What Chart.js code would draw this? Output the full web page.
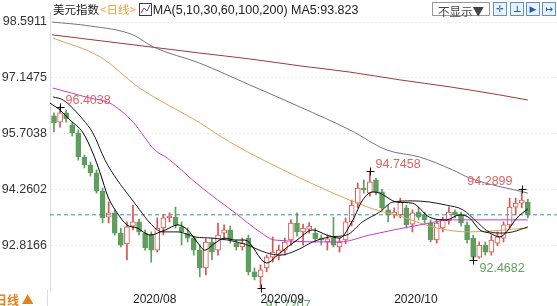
<!DOCTYPE html>
<html>
<head>
<meta charset="utf-8">
<script src="https://cdn.jsdelivr.net/npm/chart.js@4/dist/chart.umd.min.js"></script>
<style>
  html, body { margin: 0; padding: 0; background: #fff; }
  #wrap { position: relative; width: 557px; height: 306px; overflow: hidden; background: #fff; }
  #c { position: absolute; left: 0; top: 0; }
  #title { position: absolute; left: 53px; top: 1px; height: 16px; line-height: 16px; white-space: nowrap;
           font: 12.5px "Liberation Sans", Arial, sans-serif; color: #222; }
  #title .cn { font-family: "Noto Sans CJK SC", sans-serif; font-size: 11.5px; }
  #title .per { color: #f0a040; font-family: "Noto Sans CJK SC", sans-serif; font-size: 11.5px; margin: 0 3px 0 1px; }
  #title svg { vertical-align: -2px; margin-right: 1px; }
  #hide { position: absolute; left: 432px; top: 2px; width: 56px; height: 12px; line-height: 12px; border: 1px solid #999;
          font: 11.5px "Noto Sans CJK SC", sans-serif; color: #444; text-align: center; }
  .btn { position: absolute; top: 2px; width: 12px; height: 12px; border: 1px solid #5b8fd6; background: #eaf2ff;
         font: bold 9px "DejaVu Sans", sans-serif; color: #2a5cae; text-align: center; line-height: 12px; }
  #period { position: absolute; left: -5px; top: 291px; font: bold 12px "Noto Sans CJK SC", sans-serif; color: #e8801a; }
  #divider { position: absolute; left: 47px; top: 290px; width: 1px; height: 16px; background: #ddd; }
</style>
</head>
<body>
<div id="wrap">
  <canvas id="c" width="557" height="306"></canvas>
  <div id="title"><span class="cn">美元指数</span><span class="per">&lt;日线&gt;</span><svg width="13" height="13"><rect x="0.5" y="0.5" width="12" height="12" fill="#fff" stroke="#2b3a6a"/><polyline points="2,10 5,5 8,8 11,2" fill="none" stroke="#a03070"/></svg>MA(5,10,30,60,100,200) MA5:93.823</div>
  <div id="hide">不显示▼</div>
  <div class="btn" style="left:493px">✛</div>
  <div class="btn" style="left:510px">⊥</div>
  <div class="btn" style="left:526px">▶</div>
  <div class="btn" style="left:542px">↦</div>
  <div id="period">日线 ▲</div>
  <div id="divider"></div>
</div>
<script>
// 美元指数 日K线 + 均线

// K线数据 (2020/07/15 起)
var opens  = [96.17,96.01,96.25,95.94,95.73,95.11,94.91,94.70,94.23,93.56,
              93.67,93.15,92.87,93.33,93.44,93.15,93.10,92.71,93.28,93.54,
              93.56,93.31,93.15,93.02,92.71,92.25,92.92,92.71,93.15,93.23,
              92.89,92.79,93.02,92.15,92.02,92.25,92.53,92.58,92.71,92.97,
              93.41,93.18,93.25,93.15,93.02,92.92,93.02,92.79,92.97,93.44,
              93.92,94.31,94.18,94.52,94.21,93.75,93.62,93.62,93.80,93.38,
              93.69,93.62,93.41,92.97,93.28,93.46,93.69,93.62,93.36,93.02,
              92.53,92.84,92.66,92.89,93.02,93.36,93.82,93.92,93.95];
var highs  = [96.25,96.4038,96.32,96.01,95.81,95.16,94.98,94.78,94.31,93.95,
              93.75,93.28,93.44,93.87,93.51,93.23,93.18,93.54,93.62,93.67,
              93.82,93.44,93.28,93.07,92.84,93.00,93.02,93.41,93.36,93.33,
              92.97,93.02,93.10,92.25,92.33,92.58,93.05,92.84,93.02,93.49,
              93.67,93.38,93.42,93.28,93.10,93.10,93.56,93.02,93.54,94.00,
              94.44,94.52,94.7458,94.57,94.28,93.87,93.80,94.05,93.87,93.75,
              93.80,93.69,93.49,93.49,93.56,93.82,93.75,93.69,93.44,93.10,
              92.92,92.92,93.10,93.18,93.44,94.05,94.05,94.2899,94.02];
var lows   = [95.76,95.88,96.01,95.65,95.03,94.83,94.62,94.18,93.41,93.41,
              93.10,92.79,92.46,93.23,93.10,92.71,92.40,92.66,93.10,93.44,
              93.28,92.84,92.92,92.58,92.02,92.07,92.46,92.58,92.97,92.89,
              92.71,92.71,92.07,91.94,91.7207,92.15,92.40,92.46,92.58,92.84,
              93.07,92.84,93.15,92.92,92.84,92.71,92.79,92.66,92.87,93.33,
              93.80,94.18,94.10,94.13,93.74,93.44,93.54,93.54,93.28,93.18,
              93.49,93.41,92.92,92.89,93.18,93.38,93.54,93.33,92.89,92.4682,
              92.50,92.58,92.58,92.82,92.92,93.28,93.62,93.80,93.54];
var closes = [95.99,96.25,96.09,95.73,95.11,94.91,94.70,94.23,93.54,93.67,
              93.15,92.84,93.31,93.44,93.18,92.77,92.71,93.28,93.54,93.59,
              93.36,93.18,93.02,92.71,92.25,92.92,92.66,93.10,93.23,92.97,
              92.79,92.89,92.15,92.02,92.20,92.53,92.66,92.71,92.92,93.41,
              93.18,93.28,93.33,93.00,92.97,93.00,92.84,92.92,93.44,93.87,
              94.31,94.26,94.47,94.21,93.80,93.62,93.69,93.95,93.36,93.67,
              93.56,93.49,92.97,93.41,93.49,93.69,93.62,93.41,92.97,92.53,
              92.84,92.66,92.97,93.05,93.36,93.82,93.92,94.00,93.62];

// 均线 [K线序号, 数值]
var ma5 = [[-0.66,96.50],[1,96.32],[2.6,96.07],[4.8,95.73],[6.4,95.21],[7.6,94.70],[8.9,94.08],[10.4,93.67],
           [12,93.36],[13.7,93.28],[15.8,93.10],[18.3,93.23],[20.4,93.36],[22,93.23],[23.7,92.89],[24.8,92.71],
           [26.5,92.89],[28.1,93.02],[29.8,92.97],[31.4,92.97],[35,92.38],[37.2,92.64],[40,92.97],[42.6,93.23],
           [44.9,93.10],[47,93.02],[49.2,93.49],[50.8,94.00],[52.5,94.21],[53.6,94.18],[56.4,93.95],[59,93.92],
           [61.8,93.56],[64.6,93.49],[66.8,93.62],[68.4,93.54],[70.1,93.23],[71.7,93.15],[73.4,93.05],[74.5,93.18],
           [76.2,93.54],[78,93.77]];
var ma10 = [[-0.16,96.66],[1.5,96.58],[4.8,96.07],[6.4,95.73],[8.4,95.03],[10.4,94.52],[12.5,94.08],[14.1,93.75],
            [15.8,93.41],[17.8,93.18],[20.4,93.18],[23.2,93.05],[26,93.02],[28.6,92.97],[31.5,92.86],[35,92.64],
            [37.2,92.58],[40,92.71],[42.6,92.92],[45.4,93.05],[48.2,93.10],[50.8,93.44],[53.6,93.69],[55.8,93.95],
            [59,93.98],[61.8,93.95],[64.6,93.87],[67.3,93.75],[69.6,93.44],[71.7,93.18],[73.8,93.15],[75.5,93.18],
            [78,93.31]];
var ma30 = [[-0.2,96.89],[5.9,96.63],[9.2,96.50],[13,96.01],[16.6,95.29],[18.6,95.09],[24,94.36],[29.8,93.67],
            [33.9,93.18],[36.3,92.97],[47,92.92],[52,93.10],[60.2,93.36],[65.6,93.49],[78,93.49]];
var ma60 = [[-0.2,98.18],[7.6,97.69],[14.1,96.89],[24,95.99],[28.9,95.50],[40.5,94.57],[52,93.80],[57.4,93.56],
            [63,93.28],[68.4,93.18],[78,93.28]];
var ma100 = [[-0.3,98.59],[5.9,98.49],[13,98.26],[16.3,97.95],[24,97.53],[32.2,96.97],[40.5,96.40],[48.7,95.81],
             [54.8,95.29],[60.2,95.11],[65.6,94.78],[68.4,94.57],[78,94.18]];
var ma200 = [[-0.3,98.26],[15.8,97.95],[24,97.79],[32.2,97.64],[40.5,97.46],[48.7,97.30],[56.9,97.10],
             [65.1,96.92],[73.4,96.71],[78,96.58]];

// 坐标轴
var yTicks = [98.5911, 97.1475, 95.7038, 94.2602, 92.8166];
var monthLabels = ['2020/08', '2020/09', '2020/10'];
var monthPos = [13, 34, 56];

// 标注的高低点 [序号, 类型]
var marks = [[1, 'hi'], [52, 'hi'], [77, 'hiL'], [69, 'lo'], [34, 'loB']];

var xMin = -0.66, xMax = 82.8;
var yMin = 91.682, yMax = 98.849;

var upColor = '#d9534f';
var downColor = '#5e9e5e';
var FONT = '"Liberation Sans", Arial, sans-serif';

var lastPrice = closes[closes.length - 1];

function toPoints(arr) {
    return arr.map(function (p) { return { x: p[0], y: p[1] }; });
}
function isUp(i) { return closes[i] >= opens[i]; }

var bodies = opens.map(function (o, i) { return { x: i, y: [o, closes[i]] }; });
var wicks = lows.map(function (l, i) { return { x: i, y: [l, highs[i]] }; });

function maLine(label, arr, color, order) {
    return {
        type: 'line', label: label, data: toPoints(arr), borderColor: color, borderWidth: 1,
        pointRadius: 0, cubicInterpolationMode: 'monotone', fill: false, order: order
    };
}

// 高低点标注
var markPlugin = {
    id: 'marks',
    afterDatasetsDraw: function (chart) {
        var ctx = chart.ctx, xs = chart.scales.x, ys = chart.scales.y;
        ctx.save();
        ctx.font = '12.5px ' + FONT;
        ctx.textBaseline = 'middle';
        marks.forEach(function (m) {
            var i = m[0], kind = m[1];
            var v = kind.indexOf('lo') === 0 ? lows[i] : highs[i];
            var px = Math.round(xs.getPixelForValue(i)) + 0.5;
            var py = Math.round(ys.getPixelForValue(v)) + 0.5;
            ctx.strokeStyle = '#111';
            ctx.lineWidth = 1;
            ctx.beginPath();
            ctx.moveTo(px - 4, py); ctx.lineTo(px + 4, py);
            ctx.moveTo(px, py - 4); ctx.lineTo(px, py + 4);
            ctx.stroke();
            var txt = v.toFixed(4);
            if (kind === 'lo') {
                ctx.fillStyle = '#5fa35f';
                ctx.textAlign = 'left';
                ctx.fillText(txt, px + 6, py + 8);
            } else if (kind === 'loB') {
                ctx.fillStyle = '#5fa35f';
                ctx.textAlign = 'left';
                ctx.fillText(txt, px + 4, py + 17);
            } else if (kind === 'hiL') {
                ctx.fillStyle = '#e06262';
                ctx.textAlign = 'right';
                ctx.fillText(txt, px - 10, py - 8);
            } else {
                ctx.fillStyle = '#e06262';
                ctx.textAlign = 'left';
                ctx.fillText(txt, px + 5, py - 7);
            }
        });
        ctx.restore();
    }
};

var chart = new Chart(document.getElementById('c'), {
    type: 'bar',
    data: {
        datasets: [
            maLine('MA5', ma5, '#000000', 1),
            maLine('MA10', ma10, '#1a1a1a', 2),
            maLine('MA30', ma30, '#c83cc8', 3),
            maLine('MA60', ma60, '#e3a15a', 4),
            maLine('MA100', ma100, '#77708c', 5),
            maLine('MA200', ma200, '#a2383c', 6),
            {
                type: 'line', label: 'last', data: [{ x: xMin, y: lastPrice }, { x: xMax, y: lastPrice }],
                borderColor: '#3a949e', borderWidth: 1, borderDash: [4, 3], pointRadius: 0, order: 7
            },
            {
                label: 'body', data: bodies, order: 8, grouped: false, barThickness: 5, minBarLength: 1,
                borderWidth: 1, borderSkipped: false,
                backgroundColor: function (c) { return isUp(c.dataIndex) ? '#ffffff' : downColor; },
                borderColor: function (c) { return isUp(c.dataIndex) ? upColor : downColor; }
            },
            {
                label: 'wick', data: wicks, order: 9, grouped: false, barThickness: 1, borderWidth: 0,
                backgroundColor: function (c) { return isUp(c.dataIndex) ? upColor : downColor; }
            }
        ]
    },
    options: {
        responsive: false,
        animation: false,
        layout: { padding: { top: 12, left: 0, right: 0, bottom: 0 } },
        plugins: { legend: { display: false }, tooltip: { enabled: false } },
        scales: {
            x: {
                type: 'linear', min: xMin, max: xMax, offset: false,
                grid: { display: false, drawTicks: false },
                border: { display: false },
                afterBuildTicks: function (s) { s.ticks = monthPos.map(function (v) { return { value: v }; }); },
                afterFit: function (s) { s.height = 16; },
                ticks: {
                    z: 1, align: 'start', padding: 2, autoSkip: false, maxRotation: 0, color: '#222',
                    font: { size: 12, family: FONT },
                    callback: function (v) { return monthLabels[monthPos.indexOf(v)]; }
                }
            },
            y: {
                min: yMin, max: yMax, beginAtZero: false,
                grid: { color: '#ececec', drawTicks: false },
                border: { color: '#dcdcdc', dash: [2, 2] },
                afterBuildTicks: function (s) { s.ticks = yTicks.map(function (v) { return { value: v }; }); },
                afterFit: function (s) { s.width = 50; },
                ticks: {
                    padding: 3, color: '#333', font: { size: 12.5, family: FONT },
                    callback: function (v) { return v.toFixed(4); }
                }
            }
        }
    },
    plugins: [markPlugin]
});
</script>
</body>
</html>
